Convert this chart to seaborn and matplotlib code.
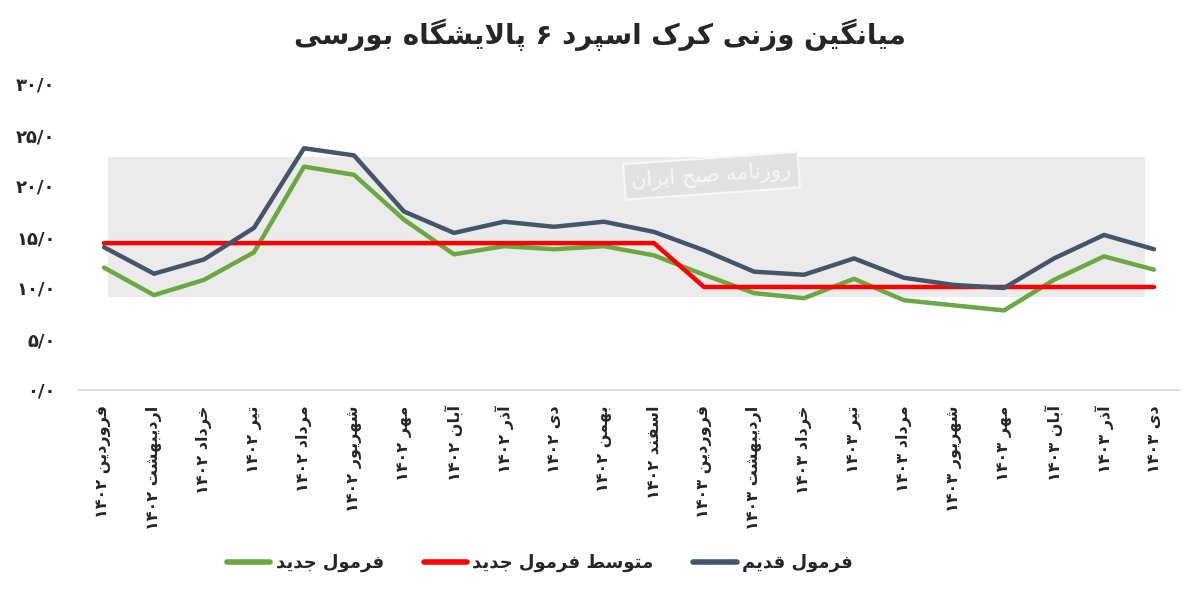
import re
import numpy as np
import pandas as pd
import matplotlib
matplotlib.use("Agg")
import matplotlib.pyplot as plt
import seaborn as sns
from matplotlib.patches import Rectangle
from matplotlib.lines import Line2D

# ---------------- data ----------------
title = "میانگین وزنی کرک اسپرد ۶ پالایشگاه بورسی"
months = ["فروردین", "اردیبهشت", "خرداد", "تیر", "مرداد", "شهریور", "مهر", "آبان",
          "آذر", "دی", "بهمن", "اسفند",
          "فروردین", "اردیبهشت", "خرداد", "تیر", "مرداد", "شهریور", "مهر", "آبان",
          "آذر", "دی"]
years = ["۱۴۰۲", "۱۴۰۲", "۱۴۰۲", "۱۴۰۲", "۱۴۰۲", "۱۴۰۲", "۱۴۰۲", "۱۴۰۲", "۱۴۰۲", "۱۴۰۲",
         "۱۴۰۲", "۱۴۰۲",
         "۱۴۰۳", "۱۴۰۳", "۱۴۰۳", "۱۴۰۳", "۱۴۰۳", "۱۴۰۳", "۱۴۰۳", "۱۴۰۳", "۱۴۰۳", "۱۴۰۳"]
series_names = ["فرمول جدید", "متوسط فرمول جدید", "فرمول قدیم"]
new_formula = [12.0, 9.3, 10.8, 13.5, 21.9, 21.1, 16.7, 13.3, 14.1, 13.8, 14.1, 13.2,
               11.3, 9.5, 9.0, 10.9, 8.8, 8.3, 7.8, 10.8, 13.1, 11.8]
new_formula_avg = [14.4, 14.4, 14.4, 14.4, 14.4, 14.4, 14.4, 14.4, 14.4, 14.4, 14.4, 14.4,
                   10.1, 10.1, 10.1, 10.1, 10.1, 10.1, 10.1, 10.1, 10.1, 10.1]
old_formula = [14.0, 11.4, 12.8, 15.9, 23.7, 23.0, 17.5, 15.4, 16.5, 16.0, 16.5, 15.5,
               13.7, 11.6, 11.3, 12.9, 11.0, 10.3, 10.0, 12.9, 15.2, 13.8]
y_ticks = [0, 5, 10, 15, 20, 25, 30]
y_tick_labels = ["۰/۰", "۵/۰", "۱۰/۰", "۱۵/۰", "۲۰/۰", "۲۵/۰", "۳۰/۰"]
watermark = "روزنامه صبح ایران"
colors = ["#6AA842", "#FF0000", "#44546A"]

# ---------------- simple Persian shaping ----------------
FORMS = {
    '\u0627': ('\uFE8D', '\uFE8E', None, None),
    '\u0622': ('\uFE81', '\uFE82', None, None),
    '\u0628': ('\uFE8F', '\uFE90', '\uFE91', '\uFE92'),
    '\u067E': ('\uFB56', '\uFB57', '\uFB58', '\uFB59'),
    '\u062A': ('\uFE95', '\uFE96', '\uFE97', '\uFE98'),
    '\u062B': ('\uFE99', '\uFE9A', '\uFE9B', '\uFE9C'),
    '\u062C': ('\uFE9D', '\uFE9E', '\uFE9F', '\uFEA0'),
    '\u0686': ('\uFB7A', '\uFB7B', '\uFB7C', '\uFB7D'),
    '\u062D': ('\uFEA1', '\uFEA2', '\uFEA3', '\uFEA4'),
    '\u062E': ('\uFEA5', '\uFEA6', '\uFEA7', '\uFEA8'),
    '\u062F': ('\uFEA9', '\uFEAA', None, None),
    '\u0630': ('\uFEAB', '\uFEAC', None, None),
    '\u0631': ('\uFEAD', '\uFEAE', None, None),
    '\u0632': ('\uFEAF', '\uFEB0', None, None),
    '\u0698': ('\uFB8A', '\uFB8B', None, None),
    '\u0633': ('\uFEB1', '\uFEB2', '\uFEB3', '\uFEB4'),
    '\u0634': ('\uFEB5', '\uFEB6', '\uFEB7', '\uFEB8'),
    '\u0635': ('\uFEB9', '\uFEBA', '\uFEBB', '\uFEBC'),
    '\u0636': ('\uFEBD', '\uFEBE', '\uFEBF', '\uFEC0'),
    '\u0637': ('\uFEC1', '\uFEC2', '\uFEC3', '\uFEC4'),
    '\u0638': ('\uFEC5', '\uFEC6', '\uFEC7', '\uFEC8'),
    '\u0639': ('\uFEC9', '\uFECA', '\uFECB', '\uFECC'),
    '\u063A': ('\uFECD', '\uFECE', '\uFECF', '\uFED0'),
    '\u0641': ('\uFED1', '\uFED2', '\uFED3', '\uFED4'),
    '\u0642': ('\uFED5', '\uFED6', '\uFED7', '\uFED8'),
    '\u06A9': ('\uFB8E', '\uFB8F', '\uFB90', '\uFB91'),
    '\u06AF': ('\uFB92', '\uFB93', '\uFB94', '\uFB95'),
    '\u0644': ('\uFEDD', '\uFEDE', '\uFEDF', '\uFEE0'),
    '\u0645': ('\uFEE1', '\uFEE2', '\uFEE3', '\uFEE4'),
    '\u0646': ('\uFEE5', '\uFEE6', '\uFEE7', '\uFEE8'),
    '\u0648': ('\uFEED', '\uFEEE', None, None),
    '\u0647': ('\uFEE9', '\uFEEA', '\uFEEB', '\uFEEC'),
    '\u06CC': ('\uFBFC', '\uFBFD', '\uFBFE', '\uFBFF'),
}
LAMALEF = {'\u0627': ('\uFEFB', '\uFEFC'), '\u0622': ('\uFEF5', '\uFEF6')}


def shape(text):
    out = []
    i, n = 0, len(text)
    prev_joins = False
    while i < n:
        c = text[i]
        if c not in FORMS:
            out.append(c)
            prev_joins = False
            i += 1
            continue
        if c == '\u0644' and i + 1 < n and text[i + 1] in LAMALEF:
            iso, fin = LAMALEF[text[i + 1]]
            out.append(fin if prev_joins else iso)
            prev_joins = False
            i += 2
            continue
        iso, fin, ini, med = FORMS[c]
        nxt = text[i + 1] if i + 1 < n else None
        joins_next = ini is not None and nxt is not None and nxt in FORMS
        if prev_joins and joins_next:
            g = med
        elif prev_joins:
            g = fin
        elif joins_next:
            g = ini
        else:
            g = iso
        out.append(g)
        prev_joins = joins_next
        i += 1
    return ''.join(out)


def fa(text):
    s = shape(text)[::-1]
    return re.sub(r'[0-9\u06F0-\u06F9/.]+', lambda m: m.group(0)[::-1], s)


# ---------------- figure ----------------
sns.set_style("white")
plt.rcParams['font.family'] = ['DejaVu Sans']
plt.rcParams['font.weight'] = 'bold'

fig = plt.figure(figsize=(12, 5.96), dpi=100)
ax = fig.add_axes([79 / 1200, 1 - 390 / 596, 1100 / 1200, 306 / 596])

x = np.arange(len(months))
df = pd.DataFrame({
    "x": np.concatenate([x, x, x]),
    "value": np.concatenate([new_formula, new_formula_avg, old_formula]),
    "series": np.repeat(series_names, len(x)),
})

# watermark band
ax.add_patch(Rectangle((29 / 1100, (390 - 297) / 306), (1145 - 108) / 1100, 140 / 306,
                       transform=ax.transAxes, facecolor="#ebebeb", edgecolor="none", zorder=0))
ax.text(0.575, 0.70, fa(watermark), transform=ax.transAxes, rotation=4, fontsize=15,
        color="#f8f8f8", ha="center", va="center", zorder=0.5, fontweight='normal',
        bbox=dict(boxstyle="square,pad=0.35", facecolor="#e2e2e2", edgecolor="#f8f8f8", lw=1.5))

sns.lineplot(data=df, x="x", y="value", hue="series", hue_order=series_names,
             palette=colors, linewidth=3.2, sort=False, ax=ax, legend=False, zorder=3)
for ln in ax.get_lines():
    ln.set_solid_capstyle("round")
    ln.set_solid_joinstyle("round")

ax.set_xlim(-0.5, len(months) - 0.5)
ax.set_ylim(0, 30)
ax.set_yticks(y_ticks)
ax.set_yticklabels(y_tick_labels)
ax.set_xticks(x)
ax.set_xticklabels([fa(f"{m} {y}") for m, y in zip(months, years)], rotation=90,
                   va="top", ha="center")
ax.tick_params(axis="y", length=0, pad=17, labelsize=13)
ax.tick_params(axis="x", length=0, pad=11, labelsize=11.5)
for lab in ax.get_xticklabels() + ax.get_yticklabels():
    lab.set_fontweight("bold")
ax.set_xlabel("")
ax.set_ylabel("")
for side in ["top", "left", "right"]:
    ax.spines[side].set_visible(False)
ax.spines["bottom"].set_color("#d9d9d9")
ax.spines["bottom"].set_linewidth(1.2)
ax.grid(False)

fig.text(0.5, 1 - 35 / 596, fa(title), ha="center", va="center", fontsize=20,
         fontweight="bold")

handles = [Line2D([0], [0], color=c, lw=4, solid_capstyle="round") for c in colors]
fig.legend(handles, [fa(s) for s in series_names], loc="center",
           bbox_to_anchor=(540 / 1200, 1 - 563 / 596), ncol=3, frameon=False,
           prop={"size": 13, "weight": "bold"}, handlelength=2.4, handletextpad=0.3,
           columnspacing=2.2)

fig.savefig("out.png", dpi=100)
